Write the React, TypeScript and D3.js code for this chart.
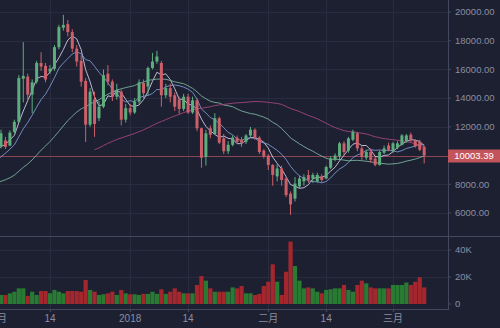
import React from "react";
import * as d3 from "d3";

// ---- data (daily candles, first candle 2017-12-03) ----
const firstDay = "2017-12-03";
const opens = [
  10650, 11050, 10700, 11650, 12350, 15350, 15500, 14250, 15150, 16450,
  16250, 15850, 16050, 17550, 18900, 19150, 18600, 17450, 16600, 15200,
  12150, 13900, 12600, 13400, 15700, 15150, 14100, 14450, 12500, 13300,
  13000, 13750, 15050, 14800, 16100, 16550, 16450, 14200, 14700, 14200,
  13900, 13250, 14100, 13000, 13850, 11900, 9900, 11900, 11500, 12600,
  11200, 10300, 10750, 11250, 11100, 10950, 11400, 11800, 11250, 10350,
  10000, 9350, 8550, 9100, 8400, 7350, 7000, 7850, 8200, 8650,
  8400, 8200, 8550, 8400, 9150, 9700, 9950, 10850, 10350, 11100,
  11550, 10500, 9850, 10250, 9800, 9350, 10200, 10700, 10300, 10550,
  10750, 11000, 11450, 11050, 10950, 10600,
];
const highs = [
  11800, 11300, 11750, 12500, 15600, 17900, 15700, 15300, 16600, 17200,
  16450, 16300, 17700, 19100, 19800, 19450, 18800, 17700, 17000, 15400,
  14700, 14450, 13800, 16000, 16300, 15300, 15000, 14600, 13600, 13600,
  14000, 15300, 15300, 16200, 17150, 17300, 16600, 15000, 15000, 14400,
  14100, 14300, 14300, 14100, 14000, 11950, 11800, 12100, 12950, 12700,
  11500, 11000, 11400, 11400, 11300, 11500, 12000, 11900, 11350, 10450,
  10100, 9400, 9400, 9300, 8500, 7500, 8500, 8600, 8700, 9000,
  8800, 8800, 8700, 9300, 9950, 10150, 10950, 11000, 11300, 11800,
  11650, 10700, 10400, 10500, 9900, 10350, 10700, 10900, 10950, 11000,
  11500, 11500, 11600, 11150, 11100, 10700,
];
const lows = [
  10500, 10450, 10650, 11550, 12300, 13700, 13900, 12950, 15000, 15900,
  15100, 15700, 15900, 17400, 18700, 18300, 17200, 16200, 14800, 10950,
  12000, 11300, 12400, 13300, 14900, 13800, 13900, 12100, 12300, 12800,
  12900, 13600, 14000, 14200, 16000, 16400, 13400, 14000, 13700, 13100,
  12900, 13100, 12900, 12900, 11700, 9150, 9300, 11200, 11450, 10800,
  10100, 10100, 10650, 10800, 10600, 10800, 11300, 11100, 10100, 9800,
  9000, 7900, 8200, 7900, 7100, 5870, 6800, 7700, 7900, 8100,
  8100, 8100, 8150, 8350, 9050, 9600, 9650, 10000, 10200, 11000,
  10300, 9700, 9700, 9500, 9250, 9300, 10100, 10300, 10200, 10450,
  10700, 10900, 10950, 10550, 10300, 9450,
];
const closes = [
  11550, 10600, 11600, 12350, 15400, 15550, 14250, 15100, 16450, 16200,
  15300, 16050, 17550, 18950, 19100, 18600, 17450, 16550, 15150, 12150,
  14450, 12200, 13400, 15600, 15150, 14100, 14500, 12500, 13300, 13000,
  13750, 15100, 14350, 16100, 16550, 16900, 14200, 14700, 14100, 13400,
  13250, 14100, 13000, 13850, 11900, 9850, 11550, 11450, 12600, 10900,
  10300, 10750, 11250, 10950, 10900, 11400, 11800, 11250, 10250, 9950,
  9350, 8650, 9100, 8300, 7250, 6600, 8050, 8400, 8500, 8300,
  8650, 8650, 8300, 9200, 9800, 10000, 10850, 10250, 11200, 11650,
  10500, 9900, 10250, 9700, 9350, 10250, 10500, 10400, 10850, 10850,
  11400, 11400, 11050, 10650, 10400, 10003.39,
];
// volume in thousands
const volumes = [
  6.7, 6.7, 7.9, 9.1, 11.6, 11.6, 6.0, 9.1, 6.7, 9.6,
  9.6, 8.0, 10.4, 9.1, 7.9, 9.6, 9.6, 9.6, 9.1, 17.8,
  10.4, 9.1, 6.7, 7.2, 7.9, 9.1, 6.7, 10.4, 7.9, 7.2,
  7.2, 6.7, 7.5, 7.5, 9.1, 7.5, 10.9, 7.5, 9.1, 11.6,
  9.1, 7.9, 7.9, 7.9, 14.1, 20.7, 17.3, 11.6, 9.1, 9.1,
  9.1, 9.1, 12.3, 11.6, 13.3, 7.9, 7.9, 6.7, 7.5, 13.3,
  16.5, 29.4, 16.5, 6.7, 23.9, 46.2, 28.1, 17.3, 11.6, 12.3,
  11.6, 9.1, 7.9, 10.4, 10.9, 11.6, 11.6, 14.1, 10.4, 9.1,
  14.1, 17.3, 15.3, 12.3, 11.6, 11.6, 11.6, 11.6, 14.1, 14.1,
  14.1, 15.9, 14.1, 16.5, 19.8, 12.3,
];
// closes before the visible range (2017-10-26 .. 2017-12-02), used by the moving averages
const priorCloses = [
  5890, 5770, 5750, 6150, 6130, 6470,
  6750, 7030, 7210, 7380, 7410, 7020, 7140, 7460, 7140, 6620,
  6360, 5950, 6560, 6640, 7300, 7850, 7700, 7790, 8040, 8240,
  8100, 8250, 8040, 8250, 8750, 9330, 9820, 9950, 9880, 9950,
  10860, 10910,
];
const lastPrice = 10003.39;
const priceTicks = [6000, 8000, 10000, 12000, 14000, 16000, 18000, 20000];
const volumeTicks = [0, 20, 40];
const volumeTickLabels = ["0", "20K", "40K"];
const timeTickDates = ["2017-12-01", "2017-12-14", "2018-01-01", "2018-01-14", "2018-02-01", "2018-02-14", "2018-03-01"];
const timeTickLabels = ["十二月", "14", "2018", "14", "二月", "14", "三月"];
const maPeriods = [5, 10, 30, 60];
const maColors = ["#d6d2ee", "#7f9dd8", "#7cb8a2", "#a8487e"];

const W = 500;
const H = 328;
const PLOT_R = 448;
const BG = "#1d2031";
const GRID = "#292c3e";
const AXIS = "#44485e";
const TEXT = "#8a8ea0";
const UP = "#5dae7e";
const DOWN = "#cc5f6a";
const VUP = "#297b34";
const VDOWN = "#a4272e";
const FONT = "'Liberation Sans', Arial, 'Noto Sans CJK SC', sans-serif";

export default function App() {
  const parse = d3.timeParse("%Y-%m-%d");
  const start = parse(firstDay) as Date;
  const dates = opens.map((_, i) => d3.timeDay.offset(start, i));

  const x = d3
    .scaleTime()
    .domain([parse("2017-12-14") as Date, parse("2018-03-01") as Date])
    .range([50, 393]);
  const y = d3.scaleLinear().domain([6000, 20000]).range([213, 12]);
  const yv = d3.scaleLinear().domain([0, 40]).range([304, 250]);

  const allCloses = [...priorCloses, ...closes];
  const allDates = allCloses.map((_, j) => d3.timeDay.offset(start, j - priorCloses.length));
  const maSeries = maPeriods.map((p) =>
    allCloses.map((_, j) =>
      j >= p - 1 ? (d3.mean(allCloses.slice(j - p + 1, j + 1)) as number) : null
    )
  );
  const line = d3
    .line<[Date, number | null]>()
    .defined((d) => d[1] != null && x(d[0]) > -12)
    .x((d) => x(d[0]))
    .y((d) => y(d[1] as number));

  const candleW = 3;
  const volW = 4.2;
  const lastY = Math.round(y(lastPrice)) + 0.5;

  return (
    <svg
      width={W}
      height={H}
      style={{ position: "absolute", left: 0, top: 0, display: "block" }}
      fontFamily={FONT}
    >
      <defs>
        <clipPath id="plotClip">
          <rect x={0} y={0} width={PLOT_R} height={H} />
        </clipPath>
      </defs>
      <rect x={0} y={0} width={W} height={H} fill={BG} />

      {/* grid */}
      <g clipPath="url(#plotClip)">
        {priceTicks.map((t) => (
          <line key={"pg" + t} x1={0} x2={PLOT_R} y1={Math.round(y(t)) + 0.5} y2={Math.round(y(t)) + 0.5} stroke={GRID} />
        ))}
        {volumeTicks.slice(1).map((t) => (
          <line key={"vg" + t} x1={0} x2={PLOT_R} y1={Math.round(yv(t)) + 0.5} y2={Math.round(yv(t)) + 0.5} stroke={GRID} />
        ))}
        {timeTickDates.map((d) => {
          const xx = Math.round(x(parse(d) as Date)) + 0.5;
          return <line key={"tg" + d} x1={xx} x2={xx} y1={0} y2={309} stroke={GRID} />;
        })}
      </g>

      {/* pane separator and axes */}
      <line x1={0} x2={W} y1={236.5} y2={236.5} stroke={AXIS} />
      <line x1={0} x2={PLOT_R} y1={309.5} y2={309.5} stroke={AXIS} />
      <line x1={PLOT_R + 0.5} x2={PLOT_R + 0.5} y1={0} y2={310} stroke={AXIS} />

      <g clipPath="url(#plotClip)">
        {/* volume */}
        {volumes.map((v, i) => {
          const up = closes[i] >= opens[i];
          const cx = x(dates[i]);
          return (
            <rect
              key={"v" + i}
              x={cx - volW / 2}
              y={yv(v)}
              width={volW}
              height={yv(0) - yv(v)}
              fill={up ? VUP : VDOWN}
            />
          );
        })}

        {/* last price line */}
        <line x1={0} x2={PLOT_R} y1={lastY} y2={lastY} stroke="#8c4452" strokeWidth={1} />

        {/* moving averages */}
        {maSeries.map((s, k) => (
          <path
            key={"ma" + k}
            d={line(allDates.map((d, j) => [d, s[j]] as [Date, number | null])) || ""}
            fill="none"
            stroke={maColors[k]}
            strokeWidth={1}
            strokeOpacity={0.85}
          />
        ))}

        {/* candles */}
        {opens.map((o, i) => {
          const c = closes[i];
          const up = c >= o;
          const cx = x(dates[i]);
          const top = y(Math.max(o, c));
          const bot = y(Math.min(o, c));
          const col = up ? UP : DOWN;
          return (
            <g key={"c" + i}>
              <line x1={cx} x2={cx} y1={y(highs[i])} y2={y(lows[i])} stroke={col} strokeWidth={1} />
              <rect x={cx - candleW / 2} y={top} width={candleW} height={Math.max(1, bot - top)} fill={col} />
            </g>
          );
        })}
      </g>

      {/* price axis labels */}
      {priceTicks.map((t) => (
        <g key={"pl" + t}>
          <line x1={PLOT_R} x2={PLOT_R + 3} y1={y(t)} y2={y(t)} stroke={AXIS} />
          <text x={455} y={y(t)} dy="0.35em" fill={TEXT} fontSize={9.5}>
            {t.toFixed(2)}
          </text>
        </g>
      ))}
      {volumeTicks.map((t, i) => (
        <g key={"vl" + t}>
          <line x1={PLOT_R} x2={PLOT_R + 3} y1={yv(t)} y2={yv(t)} stroke={AXIS} />
          <text x={455} y={yv(t)} dy="0.35em" fill={TEXT} fontSize={9.5}>
            {volumeTickLabels[i]}
          </text>
        </g>
      ))}

      {/* last price tag */}
      <rect x={PLOT_R} y={lastY - 7} width={W - PLOT_R} height={13} fill="#c4545c" />
      <text x={474} y={lastY - 0.5} dy="0.35em" fill="#ffffff" fontSize={9.5} textAnchor="middle">
        {lastPrice.toFixed(2)}
      </text>

      {/* time axis */}
      {timeTickDates.map((d, i) => {
        const xx = x(parse(d) as Date);
        return (
          <g key={"tl" + d}>
            <line x1={Math.round(xx) + 0.5} x2={Math.round(xx) + 0.5} y1={309} y2={312} stroke={AXIS} />
            <text x={xx} y={318} dy="0.35em" fill={TEXT} fontSize={10} textAnchor="middle">
              {timeTickLabels[i]}
            </text>
          </g>
        );
      })}
    </svg>
  );
}
